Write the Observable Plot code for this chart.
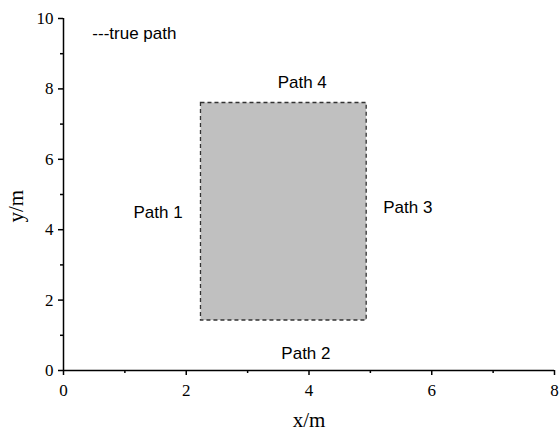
<!DOCTYPE html>
<html>
<head>
<meta charset="utf-8">
<script src="https://cdn.jsdelivr.net/npm/d3@7"></script>
<script src="https://cdn.jsdelivr.net/npm/@observablehq/plot@0.6"></script>
<style>
html,body{margin:0;padding:0;background:#fff;}
#chart svg{display:block;}
</style>
</head>
<body>
<div id="chart"></div>
<script>
// Rectangle (true path) corners
const rectX1 = [2.24];
const rectX2 = [4.94];
const rectY1 = [1.42];
const rectY2 = [7.6];

// Path labels
const labelText = ["Path 1", "Path 2", "Path 3", "Path 4"];
const labelX = [1.54, 3.95, 5.61, 3.89];
const labelY = [4.5, 0.47, 4.62, 8.17];

// Legend note
const noteText = ["---true path"];
const noteX = [0.47];
const noteY = [9.58];

// Ticks
const xMajor = [0, 2, 4, 6, 8];
const xMinor = [1, 3, 5, 7];
const yMajor = [0, 2, 4, 6, 8, 10];
const yMinor = [1, 3, 5, 7, 9];

const rects = rectX1.map((d, i) => ({x1: d, x2: rectX2[i], y1: rectY1[i], y2: rectY2[i]}));
const labels = labelText.map((t, i) => ({t, x: labelX[i], y: labelY[i]}));
const notes = noteText.map((t, i) => ({t, x: noteX[i], y: noteY[i]}));

const serif = "'Liberation Serif', 'Times New Roman', serif";
const sans = "'Liberation Sans', Arial, sans-serif";

const chart = Plot.plot({
  width: 559,
  height: 430,
  marginTop: 18,
  marginRight: 5,
  marginBottom: 60,
  marginLeft: 63,
  x: {domain: [0, 8]},
  y: {domain: [0, 10]},
  style: {background: "#fff", color: "#000"},
  marks: [
    Plot.rect(rects, {x1: "x1", x2: "x2", y1: "y1", y2: "y2", fill: "#c0c0c0", stroke: "#333", strokeWidth: 1.3, strokeDasharray: "4,3"}),
    Plot.text(labels, {x: "x", y: "y", text: "t", fontSize: 17, fontFamily: sans, fill: "#000"}),
    Plot.text(notes, {x: "x", y: "y", text: "t", textAnchor: "start", fontSize: 17, fontFamily: sans, fill: "#000"}),
    Plot.axisX({ticks: xMajor, tickSize: 5, tickPadding: 8, fontSize: 17, fontFamily: serif, strokeWidth: 1.5, label: null}),
    Plot.axisX({ticks: xMinor, tickSize: 3, tickFormat: () => "", strokeWidth: 1.5, label: null}),
    Plot.axisY({ticks: yMajor, tickSize: 5, tickPadding: 5, fontSize: 17, fontFamily: serif, strokeWidth: 1.5, label: null}),
    Plot.axisY({ticks: yMinor, tickSize: 3, tickFormat: () => "", strokeWidth: 1.5, label: null}),
    Plot.ruleY([0], {strokeWidth: 1.5}),
    Plot.ruleX([0], {strokeWidth: 1.5}),
    Plot.text(["x/m"], {frameAnchor: "bottom", dy: 56, fontSize: 21, fontFamily: serif, fill: "#000"}),
    Plot.text(["y/m"], {frameAnchor: "left", dx: -47, dy: 28, rotate: -90, fontSize: 21, fontFamily: serif, fill: "#000"})
  ]
});
document.getElementById("chart").appendChild(chart);
</script>
</body>
</html>
